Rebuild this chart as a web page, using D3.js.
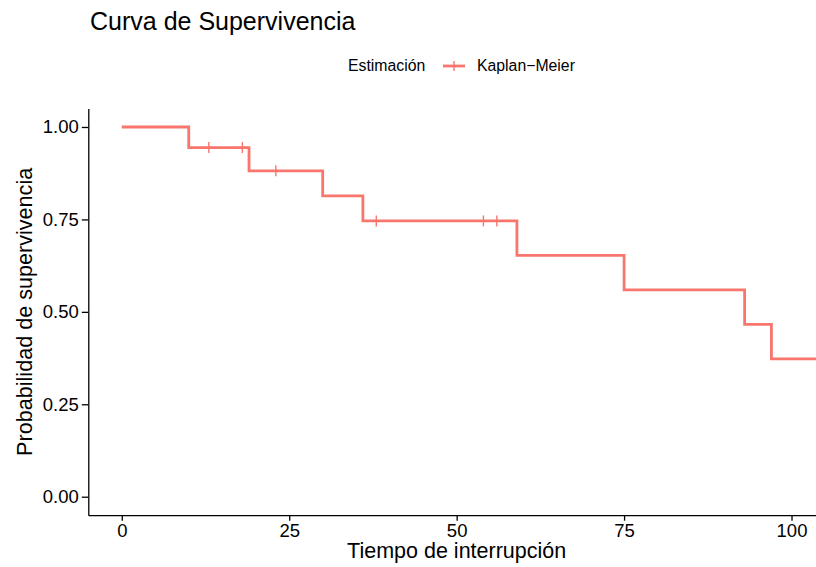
<!DOCTYPE html>
<html>
<head>
<meta charset="utf-8">
<script src="https://cdn.jsdelivr.net/npm/d3@7"></script>
<style>
  html, body { margin: 0; padding: 0; background: #fff; }
  svg { display: block; font-family: "Liberation Sans", Arial, sans-serif; }
</style>
</head>
<body>
<svg id="chart" width="816" height="567"></svg>
<script>
// Kaplan–Meier step estimate: times at which the survival drops and the level after each drop
const stepTimes = [0, 10, 19, 30, 36, 59, 75, 93, 97];
const survival  = [1.0, 0.9444, 0.8815, 0.8137, 0.7460, 0.6527, 0.5595, 0.4662, 0.3730];
const endTime = 104;
// censored observations (time, survival at that time)
const censorTimes = [13, 18, 23, 38, 54, 56];
const censorSurv  = [0.9444, 0.9444, 0.8815, 0.7460, 0.7460, 0.7460];
// axis ticks
const xTicks = [0, 25, 50, 75, 100];
const yTicks = [0, 0.25, 0.5, 0.75, 1.0];

const color = "#F8766D";
const svg = d3.select("#chart");

const x = d3.scaleLinear().domain([-5, 105]).range([88.3, 825]);
const y = d3.scaleLinear().domain([-0.05, 1.05]).range([515.2, 108.5]);

// title
svg.append("text")
  .attr("x", 90).attr("y", 30)
  .attr("font-size", 25).attr("fill", "#000")
  .text("Curva de Supervivencia");

// legend
const leg = svg.append("g");
leg.append("text").attr("x", 348).attr("y", 71)
  .attr("font-size", 15.8).text("Estimación");
leg.append("line").attr("x1", 443).attr("x2", 465).attr("y1", 66).attr("y2", 66)
  .attr("stroke", color).attr("stroke-width", 2.8);
leg.append("line").attr("x1", 454).attr("x2", 454).attr("y1", 61).attr("y2", 71)
  .attr("stroke", color).attr("stroke-width", 1.4);
leg.append("text").attr("x", 477).attr("y", 71)
  .attr("font-size", 15.8).text("Kaplan−Meier");

// survival curve
const pts = stepTimes.map((t, i) => [t, survival[i]]);
pts.push([endTime, survival[survival.length - 1]]);
const line = d3.line().x(d => x(d[0])).y(d => y(d[1])).curve(d3.curveStepAfter);
svg.append("path")
  .attr("d", line(pts))
  .attr("fill", "none")
  .attr("stroke", color)
  .attr("stroke-width", 2.8)
  .attr("stroke-linejoin", "miter");

// censor marks
const cg = svg.append("g");
censorTimes.forEach((t, i) => {
  const cx = x(t), cy = y(censorSurv[i]);
  cg.append("line").attr("x1", cx).attr("x2", cx).attr("y1", cy - 5.5).attr("y2", cy + 5.5)
    .attr("stroke", color).attr("stroke-width", 1.4);
  cg.append("line").attr("x1", cx - 5.5).attr("x2", cx + 5.5).attr("y1", cy).attr("y2", cy)
    .attr("stroke", color).attr("stroke-width", 1.4);
});

// axes
const xAxis = svg.append("g").attr("transform", "translate(0,515.2)")
  .call(d3.axisBottom(x).tickValues(xTicks).tickFormat(d3.format("d"))
    .tickSize(5.5).tickSizeOuter(0).tickPadding(3));
const yAxis = svg.append("g").attr("transform", "translate(88.3,0)")
  .call(d3.axisLeft(y).tickValues(yTicks).tickFormat(d3.format(".2f"))
    .tickSize(6.5).tickSizeOuter(0).tickPadding(3));
[xAxis, yAxis].forEach(a => {
  a.select(".domain").attr("stroke", "#000").attr("stroke-width", 1.3);
  a.selectAll(".tick line").attr("stroke", "#000").attr("stroke-width", 1.3);
  a.selectAll(".tick text").attr("fill", "#000").attr("font-size", 18.5)
    .attr("font-family", "Liberation Sans, Arial, sans-serif");
});

// axis titles
svg.append("text")
  .attr("x", (88.3 + 825) / 2).attr("y", 558)
  .attr("text-anchor", "middle").attr("font-size", 21.5)
  .text("Tiempo de interrupción");
svg.append("text")
  .attr("transform", "translate(31.5," + ((108.5 + 515.2) / 2) + ") rotate(-90)")
  .attr("text-anchor", "middle").attr("font-size", 21.6)
  .text("Probabilidad de supervivencia");
</script>
</body>
</html>
